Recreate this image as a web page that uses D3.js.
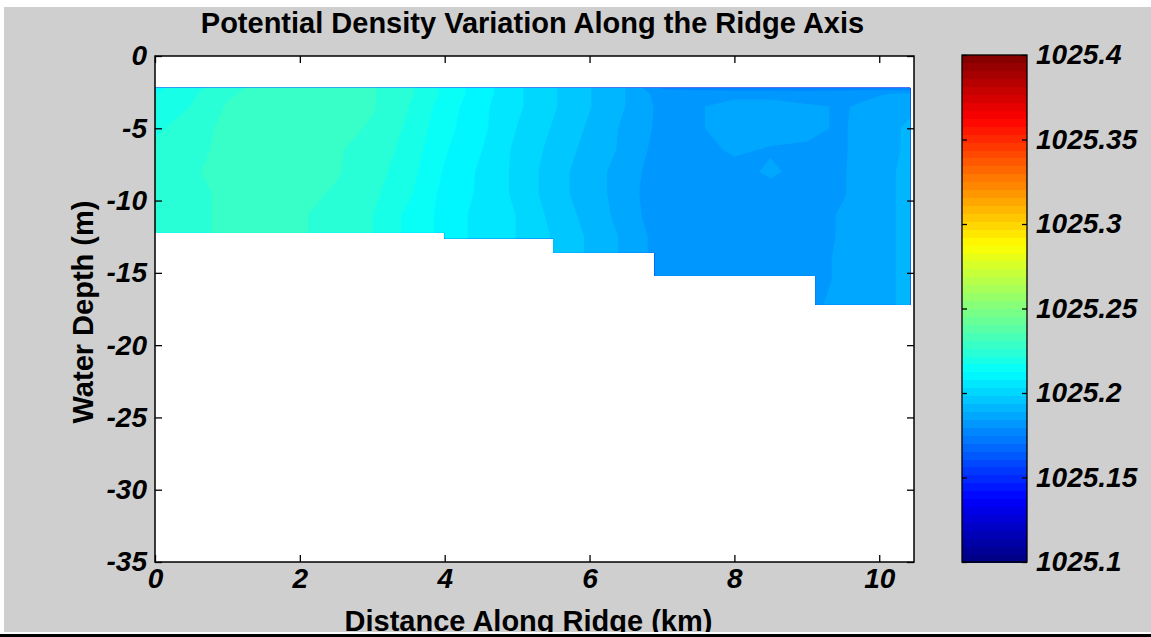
<!DOCTYPE html>
<html>
<head>
<meta charset="utf-8">
<script src="https://cdn.jsdelivr.net/npm/d3@7"></script>
<style>
  body { margin: 0; background: #fff; }
  svg { display: block; }
  text { font-family: "Liberation Sans", Arial, sans-serif; font-weight: bold; fill: #000; }
</style>
</head>
<body>
<svg width="1151" height="637"></svg>
<script>
// stations along the ridge (km) and sample depths (m)
const stations = [0, 0.5, 1, 1.5, 2, 2.5, 3, 3.5, 4, 4.5, 5, 5.5, 6, 6.5, 7, 7.5, 8, 8.5, 9, 9.5, 10, 10.43];
const depths = [2.2, 2.6, 3.5, 5, 6.5, 8, 9.5, 11, 12.5, 14, 15.5, 17.2];

// potential density, one column per station, top to bottom
const density = [
  [1025.216, 1025.217, 1025.219, 1025.221, 1025.223, 1025.225, 1025.226, 1025.226, 1025.226, 1025.226, 1025.226, 1025.226],
  [1025.220, 1025.221, 1025.222, 1025.224, 1025.225, 1025.226, 1025.226, 1025.226, 1025.226, 1025.226, 1025.226, 1025.226],
  [1025.225, 1025.226, 1025.227, 1025.228, 1025.228, 1025.228, 1025.227, 1025.227, 1025.227, 1025.227, 1025.227, 1025.227],
  [1025.228, 1025.228, 1025.229, 1025.229, 1025.229, 1025.228, 1025.227, 1025.227, 1025.227, 1025.227, 1025.227, 1025.227],
  [1025.228, 1025.229, 1025.229, 1025.229, 1025.229, 1025.228, 1025.228, 1025.227, 1025.227, 1025.227, 1025.227, 1025.227],
  [1025.228, 1025.228, 1025.229, 1025.228, 1025.227, 1025.227, 1025.226, 1025.225, 1025.225, 1025.225, 1025.225, 1025.225],
  [1025.227, 1025.227, 1025.227, 1025.226, 1025.225, 1025.224, 1025.223, 1025.222, 1025.222, 1025.222, 1025.222, 1025.222],
  [1025.223, 1025.223, 1025.222, 1025.221, 1025.220, 1025.219, 1025.218, 1025.216, 1025.216, 1025.216, 1025.216, 1025.216],
  [1025.216, 1025.216, 1025.215, 1025.214, 1025.213, 1025.212, 1025.211, 1025.211, 1025.211, 1025.211, 1025.211, 1025.211],
  [1025.210, 1025.210, 1025.209, 1025.209, 1025.208, 1025.207, 1025.207, 1025.206, 1025.206, 1025.206, 1025.206, 1025.206],
  [1025.204, 1025.204, 1025.204, 1025.203, 1025.202, 1025.202, 1025.202, 1025.203, 1025.203, 1025.203, 1025.203, 1025.203],
  [1025.199, 1025.199, 1025.199, 1025.198, 1025.197, 1025.196, 1025.196, 1025.197, 1025.198, 1025.198, 1025.198, 1025.198],
  [1025.194, 1025.194, 1025.194, 1025.193, 1025.192, 1025.191, 1025.191, 1025.192, 1025.193, 1025.193, 1025.193, 1025.193],
  [1025.189, 1025.189, 1025.189, 1025.188, 1025.188, 1025.187, 1025.187, 1025.187, 1025.188, 1025.188, 1025.188, 1025.188],
  [1025.179, 1025.182, 1025.183, 1025.183, 1025.182, 1025.181, 1025.180, 1025.181, 1025.182, 1025.182, 1025.182, 1025.182],
  [1025.178, 1025.182, 1025.184, 1025.184, 1025.183, 1025.182, 1025.182, 1025.182, 1025.182, 1025.183, 1025.183, 1025.183],
  [1025.177, 1025.183, 1025.186, 1025.186, 1025.185, 1025.183, 1025.182, 1025.182, 1025.182, 1025.183, 1025.183, 1025.183],
  [1025.177, 1025.183, 1025.186, 1025.186, 1025.184, 1025.185, 1025.183, 1025.182, 1025.182, 1025.183, 1025.183, 1025.183],
  [1025.177, 1025.182, 1025.185, 1025.185, 1025.184, 1025.183, 1025.182, 1025.182, 1025.182, 1025.183, 1025.183, 1025.183],
  [1025.177, 1025.183, 1025.184, 1025.184, 1025.184, 1025.184, 1025.184, 1025.185, 1025.185, 1025.185, 1025.185, 1025.186],
  [1025.177, 1025.184, 1025.186, 1025.187, 1025.187, 1025.188, 1025.188, 1025.188, 1025.188, 1025.188, 1025.188, 1025.188],
  [1025.176, 1025.185, 1025.188, 1025.190, 1025.190, 1025.190, 1025.190, 1025.190, 1025.190, 1025.190, 1025.190, 1025.190]
];

// stepped bottom of the section
const bottomEdges = [0, 4.0, 5.5, 6.9, 9.12, 10.43];
const bottomDepths = [12.2, 12.6, 13.6, 15.2, 17.2];

const xTicks = [0, 2, 4, 6, 8, 10];
const yTicks = [0, -5, -10, -15, -20, -25, -30, -35];
const cbarTicks = [1025.1, 1025.15, 1025.2, 1025.25, 1025.3, 1025.35, 1025.4];

const svg = d3.select('svg');
const plot = { left: 155, right: 914, top: 56, bottom: 562 };
const cbar = { left: 962, right: 1027, top: 55, bottom: 562 };

// figure background
svg.append('rect').attr('x', 4).attr('y', 7).attr('width', 1147).attr('height', 625).attr('fill', '#cfcfcf');

const xScale = d3.scaleLinear().domain([0, 10.48]).range([plot.left, plot.right]);
const yScale = d3.scaleLinear().domain([-35, 0]).range([plot.bottom, plot.top]);

// matlab jet, 64 levels
const jet = t => {
  const c = v => Math.round(255 * Math.max(0, Math.min(1, v)));
  return d3.rgb(c(1.5 - Math.abs(4 * t - 3)), c(1.5 - Math.abs(4 * t - 2)), c(1.5 - Math.abs(4 * t - 1))).toString();
};
const color = d3.scaleQuantize()
  .domain([1025.1, 1025.4])
  .range(d3.range(64).map(k => jet((k + 0.5) / 64)));

svg.append('rect')
  .attr('x', plot.left).attr('y', plot.top)
  .attr('width', plot.right - plot.left).attr('height', plot.bottom - plot.top)
  .attr('fill', '#fff');

// clip to the sampled region
const outline = [[0, bottomDepths[0]], [0, depths[0]], [stations[stations.length - 1], depths[0]]];
for (let k = bottomDepths.length - 1; k >= 0; k--) {
  outline.push([bottomEdges[k + 1], bottomDepths[k]]);
  outline.push([bottomEdges[k], bottomDepths[k]]);
}
svg.append('clipPath').attr('id', 'section')
  .append('polygon')
  .attr('points', outline.map(p => [xScale(p[0]), yScale(-p[1])].join(',')).join(' '));

const nx = stations.length, ny = depths.length;
const values = [];
for (let j = 0; j < ny; j++) for (let i = 0; i < nx; i++) values.push(density[i][j]);

const thresholds = [1025.1, ...color.thresholds()];
const contours = d3.contours().size([nx, ny]).thresholds(thresholds)(values);

const colIdx = d3.scaleLinear().domain(d3.range(nx)).range(stations).clamp(true);
const rowIdx = d3.scaleLinear().domain(d3.range(ny)).range(depths).clamp(true);
const path = d3.geoPath(d3.geoTransform({
  point(px, py) { this.stream.point(xScale(colIdx(px - 0.5)), yScale(-rowIdx(py - 0.5))); }
}));

svg.append('g').attr('clip-path', 'url(#section)')
  .selectAll('path').data(contours).join('path')
  .attr('d', path)
  .attr('fill', (d, i) => color.range()[i]);

// axes
const tickFmt = d => String(d);
svg.append('g').attr('transform', `translate(0,${plot.bottom})`)
  .call(d3.axisBottom(xScale).tickValues(xTicks).tickSize(-7).tickPadding(6).tickFormat(tickFmt));
svg.append('g').attr('transform', `translate(0,${plot.top})`)
  .call(d3.axisTop(xScale).tickValues(xTicks).tickSize(-7).tickFormat(''));
svg.append('g').attr('transform', `translate(${plot.left},0)`)
  .call(d3.axisLeft(yScale).tickValues(yTicks).tickSize(-7).tickPadding(8).tickFormat(tickFmt));
svg.append('g').attr('transform', `translate(${plot.right},0)`)
  .call(d3.axisRight(yScale).tickValues(yTicks).tickSize(-7).tickFormat(''));

svg.append('rect')
  .attr('x', plot.left).attr('y', plot.top)
  .attr('width', plot.right - plot.left).attr('height', plot.bottom - plot.top)
  .attr('fill', 'none').attr('stroke', '#000').attr('stroke-width', 1.5);

// colorbar
const cScale = d3.scaleLinear().domain([1025.1, 1025.4]).range([cbar.bottom, cbar.top]);
const levels = color.range().map(c => color.invertExtent(c));
svg.append('g').selectAll('rect').data(levels).join('rect')
  .attr('x', cbar.left).attr('width', cbar.right - cbar.left)
  .attr('y', d => cScale(d[1])).attr('height', d => cScale(d[0]) - cScale(d[1]) + 0.5)
  .attr('fill', d => color(d[0]))
  .attr('shape-rendering', 'crispEdges');

svg.append('g').attr('transform', `translate(${cbar.right},0)`)
  .call(d3.axisRight(cScale).tickValues(cbarTicks).tickSize(-5).tickPadding(9).tickFormat(tickFmt));
svg.append('g').attr('transform', `translate(${cbar.left},0)`)
  .call(d3.axisLeft(cScale).tickValues(cbarTicks).tickSize(-5).tickFormat(''));

svg.selectAll('.domain').remove();
svg.selectAll('.tick line').attr('stroke', '#000').attr('stroke-width', 1.3);
svg.selectAll('.tick text')
  .style('font-size', '28px').style('font-style', 'italic').style('font-weight', 'bold')
  .attr('fill', '#000');

svg.append('rect')
  .attr('x', cbar.left).attr('y', cbar.top)
  .attr('width', cbar.right - cbar.left).attr('height', cbar.bottom - cbar.top)
  .attr('fill', 'none').attr('stroke', '#000').attr('stroke-width', 1.3);

// titles
svg.append('text')
  .attr('x', (plot.left + plot.right) / 2 - 2).attr('y', 33)
  .attr('text-anchor', 'middle').style('font-size', '29px')
  .text('Potential Density Variation Along the Ridge Axis');

svg.append('text')
  .attr('x', (plot.left + plot.right) / 2 - 6).attr('y', 631)
  .attr('text-anchor', 'middle').style('font-size', '29px')
  .text('Distance Along Ridge (km)');

svg.append('text')
  .attr('transform', `translate(93,${(plot.top + plot.bottom) / 2 + 3}) rotate(-90)`)
  .attr('text-anchor', 'middle').style('font-size', '29px')
  .text('Water Depth (m)');

// bottom border of the figure window
svg.append('rect').attr('x', 0).attr('y', 632).attr('width', 1151).attr('height', 2).attr('fill', '#fff');
svg.append('rect').attr('x', 0).attr('y', 634).attr('width', 1151).attr('height', 3).attr('fill', '#000');
</script>
</body>
</html>
